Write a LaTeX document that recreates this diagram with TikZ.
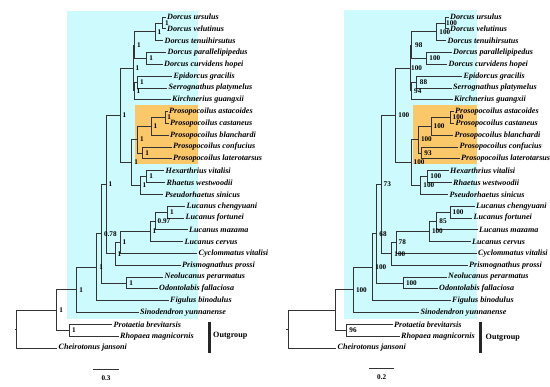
\documentclass[tikz,border=0pt]{standalone}
\usepackage{fontspec}
\setmainfont{Liberation Serif}
\usepackage{xcolor}
\usepackage{tikz}
\usetikzlibrary{positioning}
\definecolor{cladecyan}{RGB}{205,250,252}
\definecolor{cladeorange}{RGB}{250,200,105}
\tikzset{
  taxon/.style={
    anchor=west,
    inner sep=1.5pt,
    font=\fontsize{8.1}{9}\selectfont\bfseries\itshape
  },
  support/.style={
    inner sep=0.5pt,
    font=\fontsize{7.2}{8}\selectfont\bfseries
  },
  branch/.style={draw=black!80, line width=0.75pt},
  lucanidbox/.style={fill=cladecyan, draw=none},
  prosobox/.style={fill=cladeorange, draw=none},
  outbar/.style={draw=black!85, line width=3pt},
  outlabel/.style={anchor=west, inner sep=1pt, font=\fontsize{8.1}{9}\selectfont\bfseries},
  scalebar/.style={draw=black!80, line width=0.8pt},
  scalelabel/.style={inner sep=1pt, font=\fontsize{7.2}{8}\selectfont\bfseries}
}

\begin{document}
\begin{tikzpicture}[x=1pt, y=-1pt]
  \useasboundingbox (0,0) rectangle (550,387);

  % clade shading
  \fill[lucanidbox] (67,10.7) rectangle (198,319);
  \fill[prosobox] (135,105) rectangle (198,164);
  \fill[lucanidbox] (344,10) rectangle (476.7,319);
  \fill[prosobox] (413.3,105) rectangle (476.7,164.3);

  % left tree: taxa
  \node[taxon] (ursulus1) at (165.5,17.0) {Dorcus ursulus};
  \node[taxon] (velutinus1) at (165.5,28.8) {Dorcus velutinus};
  \node[taxon] (tenuihirsutus1) at (163,40.6) {Dorcus tenuihirsutus};
  \node[taxon] (parallelipipedus1) at (166,52.5) {Dorcus parallelipipedus};
  \node[taxon] (curvidens1) at (162.5,64.3) {Dorcus curvidens hopei};
  \node[taxon] (gracilis1) at (172,76.1) {Epidorcus gracilis};
  \node[taxon] (platymelus1) at (167,87.9) {Serrognathus platymelus};
  \node[taxon] (guangxii1) at (170.5,99.7) {Kirchnerius guangxii};
  \node[taxon] (astacoides1) at (167.5,111.6) {Prosopocoilus astacoides};
  \node[taxon] (castaneus1) at (168.5,123.4) {Prosopocoilus castaneus};
  \node[taxon] (blanchardi1) at (168.5,135.2) {Prosopocoilus blanchardi};
  \node[taxon] (confucius1) at (171.5,147.0) {Prosopocoilus confucius};
  \node[taxon] (laterotarsus1) at (171.5,158.8) {Prosopocoilus laterotarsus};
  \node[taxon] (hexarthrius1) at (164,170.7) {Hexarthrius vitalisi};
  \node[taxon] (rhaetus1) at (165,182.5) {Rhaetus westwoodii};
  \node[taxon] (pseudorhaetus1) at (163.3,194.3) {Pseudorhaetus sinicus};
  \node[taxon] (chengyuani1) at (185,206.1) {Lucanus chengyuani};
  \node[taxon] (fortunei1) at (184,217.9) {Lucanus fortunei};
  \node[taxon] (mazama1) at (187.5,229.8) {Lucanus mazama};
  \node[taxon] (cervus1) at (183,241.6) {Lucanus cervus};
  \node[taxon] (cyclommatus1) at (197,253.4) {Cyclommatus vitalisi};
  \node[taxon] (prismognathus1) at (180.5,265.2) {Prismognathus prossi};
  \node[taxon] (neolucanus1) at (163,277.0) {Neolucanus perarmatus};
  \node[taxon] (odontolabis1) at (157.5,288.8) {Odontolabis fallaciosa};
  \node[taxon] (figulus1) at (168.5,300.7) {Figulus binodulus};
  \node[taxon] (sinodendron1) at (138.5,312.5) {Sinodendron yunnanense};
  \node[taxon] (protaetia1) at (112,324.3) {Protaetia brevitarsis};
  \node[taxon] (rhopaea1) at (118.5,336.1) {Rhopaea magnicornis};
  \node[taxon] (cheirotonus1) at (57,347.9) {Cheirotonus jansoni};

  % left tree: internal nodes
  \coordinate (velu1) at (162.3,22.9);
  \coordinate (dorc1) at (155,31.75);
  \coordinate (para1) at (146.7,58.4);
  \coordinate (dorcg1) at (134.5,45.1);
  \coordinate (epid1) at (137.3,82.0);
  \coordinate (kirc1) at (134,90.85);
  \coordinate (dorcx1) at (133,68.0);
  \coordinate (asta1) at (165.7,117.5);
  \coordinate (blan1) at (151,126.35);
  \coordinate (conf1) at (142.7,152.9);
  \coordinate (pros1) at (137.3,139.6);
  \coordinate (hexa1) at (146.7,176.6);
  \coordinate (rhae1) at (140,185.45);
  \coordinate (prhe1) at (131.7,162.5);
  \coordinate (luci1) at (120,115.2);
  \coordinate (chen1) at (167.5,212.0);
  \coordinate (maza1) at (155,220.9);
  \coordinate (luca1) at (150,231.25);
  \coordinate (cycl1) at (120,242.3);
  \coordinate (pris1) at (115,253.75);
  \coordinate (core1) at (106,184.5);
  \coordinate (neol1) at (126.7,282.9);
  \coordinate (neoc1) at (101.3,233.7);
  \coordinate (figu1) at (96.7,267.2);
  \coordinate (lucd1) at (76.7,289.85);
  \coordinate (scar1) at (69.3,330.2);
  \coordinate (ingr1) at (56.7,310.0);
  \coordinate (root1) at (16.7,329.0);

  \draw[branch] (root1) -- ++(-2,0);
  \draw[branch] (root1) |- (ingr1) (root1) |- (cheirotonus1.west);
  \draw[branch] (ingr1) |- (lucd1) (ingr1) |- (scar1);
  \draw[branch] (scar1) |- (protaetia1.west) (scar1) |- (rhopaea1.west);
  \draw[branch] (lucd1) |- (figu1) (lucd1) |- (sinodendron1.west);
  \draw[branch] (figu1) |- (neoc1) (figu1) |- (figulus1.west);
  \draw[branch] (neoc1) |- (core1) (neoc1) |- (neol1);
  \draw[branch] (neol1) |- (neolucanus1.west) (neol1) |- (odontolabis1.west);
  \draw[branch] (core1) |- (luci1) (core1) |- (pris1);
  \draw[branch] (pris1) |- (cycl1) (pris1) |- (prismognathus1.west);
  \draw[branch] (cycl1) |- (luca1) (cycl1) |- (cyclommatus1.west);
  \draw[branch] (luca1) |- (maza1) (luca1) |- (cervus1.west);
  \draw[branch] (maza1) |- (chen1) (maza1) |- (mazama1.west);
  \draw[branch] (chen1) |- (chengyuani1.west) (chen1) |- (fortunei1.west);
  \draw[branch] (luci1) |- (dorcx1) (luci1) |- (prhe1);
  \draw[branch] (prhe1) |- (pros1) (prhe1) |- (rhae1);
  \draw[branch] (rhae1) |- (hexa1) (rhae1) |- (pseudorhaetus1.west);
  \draw[branch] (hexa1) |- (hexarthrius1.west) (hexa1) |- (rhaetus1.west);
  \draw[branch] (pros1) |- (blan1) (pros1) |- (conf1);
  \draw[branch] (conf1) |- (confucius1.west) (conf1) |- (laterotarsus1.west);
  \draw[branch] (blan1) |- (asta1) (blan1) |- (blanchardi1.west);
  \draw[branch] (asta1) |- (astacoides1.west) (asta1) |- (castaneus1.west);
  \draw[branch] (dorcx1) |- (dorcg1) (dorcx1) |- (kirc1);
  \draw[branch] (kirc1) |- (epid1) (kirc1) |- (guangxii1.west);
  \draw[branch] (epid1) |- (gracilis1.west) (epid1) |- (platymelus1.west);
  \draw[branch] (dorcg1) |- (dorc1) (dorcg1) |- (para1);
  \draw[branch] (para1) |- (parallelipipedus1.west) (para1) |- (curvidens1.west);
  \draw[branch] (dorc1) |- (velu1) (dorc1) |- (tenuihirsutus1.west);
  \draw[branch] (velu1) |- (ursulus1.west) (velu1) |- (velutinus1.west);

  % left tree: posterior probabilities
  \node[support, right=2pt of velu1] (svelu1) {1};
  \node[support, right=2pt of dorc1] (sdorc1) {1};
  \node[support, right=2pt of para1] (spara1) {1};
  \node[support, right=2pt of dorcg1] (sdorcg1) {1};
  \node[support, right=2pt of epid1] (sepid1) {1};
  \node[support, right=2pt of kirc1] (skirc1) {1};
  \node[support, right=2pt of dorcx1] (sdorcx1) {1};
  \node[support, right=1pt of asta1] (sasta1) {1};
  \node[support, right=2pt of blan1] (sblan1) {1};
  \node[support, right=2pt of conf1] (sconf1) {1};
  \node[support, right=2pt of pros1] (spros1) {1};
  \node[support, right=2pt of hexa1] (shexa1) {1};
  \node[support, right=2pt of rhae1] (srhae1) {1};
  \node[support, right=2pt of prhe1] (sprhe1) {1};
  \node[support, right=2pt of luci1] (sluci1) {1};
  \node[support, right=2pt of chen1] (schen1) {1};
  \node[support, right=2pt of maza1] (smaza1) {0.97};
  \node[support, right=2pt of luca1] (sluca1) {1};
  \node[support, right=2pt of cycl1] (scycl1) {1};
  \node[support, right=2pt of pris1] (spris1) {1};
  \node[support, right=2pt of core1] (score1) {1};
  \node[support, right=2pt of neol1] (sneol1) {1};
  \node[support, right=2pt of neoc1] (sneoc1) {0.78};
  \node[support, right=2pt of figu1] (sfigu1) {1};
  \node[support, right=2pt of lucd1] (slucd1) {1};
  \node[support, right=2pt of scar1] (sscar1) {1};
  \node[support, right=2pt of ingr1] (singr1) {1};

  % left tree: outgroup bar and scale
  \coordinate (ogtop1) at (209.3,321.7);
  \coordinate (ogbot1) at (209.3,353.3);
  \draw[outbar] (ogtop1) -- (ogbot1);
  \node[outlabel] (og1) at (212,336) {Outgroup};
  \coordinate (sbleft1) at (92.7,369);
  \coordinate (sbright1) at (119.3,369);
  \draw[scalebar] (sbleft1) -- (sbright1);
  \node[scalelabel] (sblabel1) at (106,378) {0.3};

  % right tree: taxa
  \node[taxon] (ursulus2) at (448.5,17.0) {Dorcus ursulus};
  \node[taxon] (velutinus2) at (448.5,28.8) {Dorcus velutinus};
  \node[taxon] (tenuihirsutus2) at (446,40.6) {Dorcus tenuihirsutus};
  \node[taxon] (parallelipipedus2) at (451.5,52.5) {Dorcus parallelipipedus};
  \node[taxon] (curvidens2) at (447,64.3) {Dorcus curvidens hopei};
  \node[taxon] (gracilis2) at (462,76.1) {Epidorcus gracilis};
  \node[taxon] (platymelus2) at (451.5,87.9) {Serrognathus platymelus};
  \node[taxon] (guangxii2) at (452.5,99.7) {Kirchnerius guangxii};
  \node[taxon] (astacoides2) at (453.5,111.6) {Prosopocoilus astacoides};
  \node[taxon] (castaneus2) at (454,123.4) {Prosopocoilus castaneus};
  \node[taxon] (blanchardi2) at (453,135.2) {Prosopocoilus blanchardi};
  \node[taxon] (confucius2) at (458,147.0) {Prosopocoilus confucius};
  \node[taxon] (laterotarsus2) at (459.5,158.8) {Prosopocoilus laterotarsus};
  \node[taxon] (hexarthrius2) at (448.5,170.7) {Hexarthrius vitalisi};
  \node[taxon] (rhaetus2) at (451.5,182.5) {Rhaetus westwoodii};
  \node[taxon] (pseudorhaetus2) at (448,194.3) {Pseudorhaetus sinicus};
  \node[taxon] (chengyuani2) at (474.5,206.1) {Lucanus chengyuani};
  \node[taxon] (fortunei2) at (472,217.9) {Lucanus fortunei};
  \node[taxon] (mazama2) at (477.5,229.8) {Lucanus mazama};
  \node[taxon] (cervus2) at (470.5,241.6) {Lucanus cervus};
  \node[taxon] (cyclommatus2) at (476.5,253.4) {Cyclommatus vitalisi};
  \node[taxon] (prismognathus2) at (467.5,265.2) {Prismognathus prossi};
  \node[taxon] (neolucanus2) at (446.5,277.0) {Neolucanus perarmatus};
  \node[taxon] (odontolabis2) at (437.5,288.8) {Odontolabis fallaciosa};
  \node[taxon] (figulus2) at (450.5,300.7) {Figulus binodulus};
  \node[taxon] (sinodendron2) at (419,312.5) {Sinodendron yunnanense};
  \node[taxon] (protaetia2) at (392.5,324.3) {Protaetia brevitarsis};
  \node[taxon] (rhopaea2) at (399.5,336.1) {Rhopaea magnicornis};
  \node[taxon] (cheirotonus2) at (336,347.9) {Cheirotonus jansoni};

  % right tree: internal nodes
  \coordinate (velu2) at (445,22.9);
  \coordinate (dorc2) at (436.7,31.75);
  \coordinate (para2) at (426.7,58.4);
  \coordinate (dorcg2) at (411.5,45.1);
  \coordinate (epid2) at (416.2,82.0);
  \coordinate (kirc2) at (411.5,90.85);
  \coordinate (dorcx2) at (410,68.0);
  \coordinate (asta2) at (450,117.5);
  \coordinate (blan2) at (431,126.35);
  \coordinate (conf2) at (421.7,152.9);
  \coordinate (pros2) at (418.3,139.6);
  \coordinate (hexa2) at (427.7,176.6);
  \coordinate (rhae2) at (420.7,185.45);
  \coordinate (prhe2) at (411,162.5);
  \coordinate (luci2) at (395.7,115.2);
  \coordinate (chen2) at (450,212.0);
  \coordinate (maza2) at (436.7,220.9);
  \coordinate (luca2) at (429.3,231.25);
  \coordinate (cycl2) at (396,242.3);
  \coordinate (pris2) at (391.7,253.75);
  \coordinate (core2) at (381,184.5);
  \coordinate (neol2) at (403.3,282.9);
  \coordinate (neoc2) at (376.7,233.7);
  \coordinate (figu2) at (372.7,267.2);
  \coordinate (lucd2) at (353.3,289.85);
  \coordinate (scar2) at (346.7,330.2);
  \coordinate (ingr2) at (335,310.0);
  \coordinate (root2) at (288.3,329.0);

  \draw[branch] (root2) -- ++(-2,0);
  \draw[branch] (root2) |- (ingr2) (root2) |- (cheirotonus2.west);
  \draw[branch] (ingr2) |- (lucd2) (ingr2) |- (scar2);
  \draw[branch] (scar2) |- (protaetia2.west) (scar2) |- (rhopaea2.west);
  \draw[branch] (lucd2) |- (figu2) (lucd2) |- (sinodendron2.west);
  \draw[branch] (figu2) |- (neoc2) (figu2) |- (figulus2.west);
  \draw[branch] (neoc2) |- (core2) (neoc2) |- (neol2);
  \draw[branch] (neol2) |- (neolucanus2.west) (neol2) |- (odontolabis2.west);
  \draw[branch] (core2) |- (luci2) (core2) |- (pris2);
  \draw[branch] (pris2) |- (cycl2) (pris2) |- (prismognathus2.west);
  \draw[branch] (cycl2) |- (luca2) (cycl2) |- (cyclommatus2.west);
  \draw[branch] (luca2) |- (maza2) (luca2) |- (cervus2.west);
  \draw[branch] (maza2) |- (chen2) (maza2) |- (mazama2.west);
  \draw[branch] (chen2) |- (chengyuani2.west) (chen2) |- (fortunei2.west);
  \draw[branch] (luci2) |- (dorcx2) (luci2) |- (prhe2);
  \draw[branch] (prhe2) |- (pros2) (prhe2) |- (rhae2);
  \draw[branch] (rhae2) |- (hexa2) (rhae2) |- (pseudorhaetus2.west);
  \draw[branch] (hexa2) |- (hexarthrius2.west) (hexa2) |- (rhaetus2.west);
  \draw[branch] (pros2) |- (blan2) (pros2) |- (conf2);
  \draw[branch] (conf2) |- (confucius2.west) (conf2) |- (laterotarsus2.west);
  \draw[branch] (blan2) |- (asta2) (blan2) |- (blanchardi2.west);
  \draw[branch] (asta2) |- (astacoides2.west) (asta2) |- (castaneus2.west);
  \draw[branch] (dorcx2) |- (dorcg2) (dorcx2) |- (kirc2);
  \draw[branch] (kirc2) |- (epid2) (kirc2) |- (guangxii2.west);
  \draw[branch] (epid2) |- (gracilis2.west) (epid2) |- (platymelus2.west);
  \draw[branch] (dorcg2) |- (dorc2) (dorcg2) |- (para2);
  \draw[branch] (para2) |- (parallelipipedus2.west) (para2) |- (curvidens2.west);
  \draw[branch] (dorc2) |- (velu2) (dorc2) |- (tenuihirsutus2.west);
  \draw[branch] (velu2) |- (ursulus2.west) (velu2) |- (velutinus2.west);

  % right tree: bootstrap values
  \node[support, right=0.5pt of velu2] (svelu2) {100};
  \node[support, right=2pt of dorc2] (sdorc2) {100};
  \node[support, right=2pt of para2] (spara2) {100};
  \node[support, right=3pt of dorcg2] (sdorcg2) {98};
  \node[support, right=3pt of epid2] (sepid2) {88};
  \node[support, right=2pt of kirc2] (skirc2) {94};
  \node[support, right=0.5pt of dorcx2] (sdorcx2) {100};
  \node[support, right=2pt of asta2] (sasta2) {100};
  \node[support, right=2pt of blan2] (sblan2) {100};
  \node[support, right=2pt of conf2] (sconf2) {93};
  \node[support, right=2pt of pros2] (spros2) {100};
  \node[support, right=2pt of hexa2] (shexa2) {100};
  \node[support, right=2pt of rhae2] (srhae2) {100};
  \node[support, right=2pt of prhe2] (sprhe2) {100};
  \node[support, right=2pt of luci2] (sluci2) {100};
  \node[support, right=2pt of chen2] (schen2) {100};
  \node[support, right=2pt of maza2] (smaza2) {85};
  \node[support, right=2pt of luca2] (sluca2) {100};
  \node[support, right=2pt of cycl2] (scycl2) {78};
  \node[support, right=2pt of pris2] (spris2) {100};
  \node[support, right=2pt of core2] (score2) {73};
  \node[support, right=2pt of neol2] (sneol2) {100};
  \node[support, right=2pt of neoc2] (sneoc2) {68};
  \node[support, right=2pt of figu2] (sfigu2) {100};
  \node[support, right=2pt of lucd2] (slucd2) {100};
  \node[support, right=2pt of scar2] (sscar2) {96};

  % right tree: outgroup bar and scale
  \coordinate (ogtop2) at (480.7,321.7);
  \coordinate (ogbot2) at (480.7,353.3);
  \draw[outbar] (ogtop2) -- (ogbot2);
  \node[outlabel] (og2) at (484.5,337.5) {Outgroup};
  \coordinate (sbleft2) at (369,368.5);
  \coordinate (sbright2) at (394.3,368.5);
  \draw[scalebar] (sbleft2) -- (sbright2);
  \node[scalelabel] (sblabel2) at (381.7,377.5) {0.2};
\end{tikzpicture}
\end{document}
